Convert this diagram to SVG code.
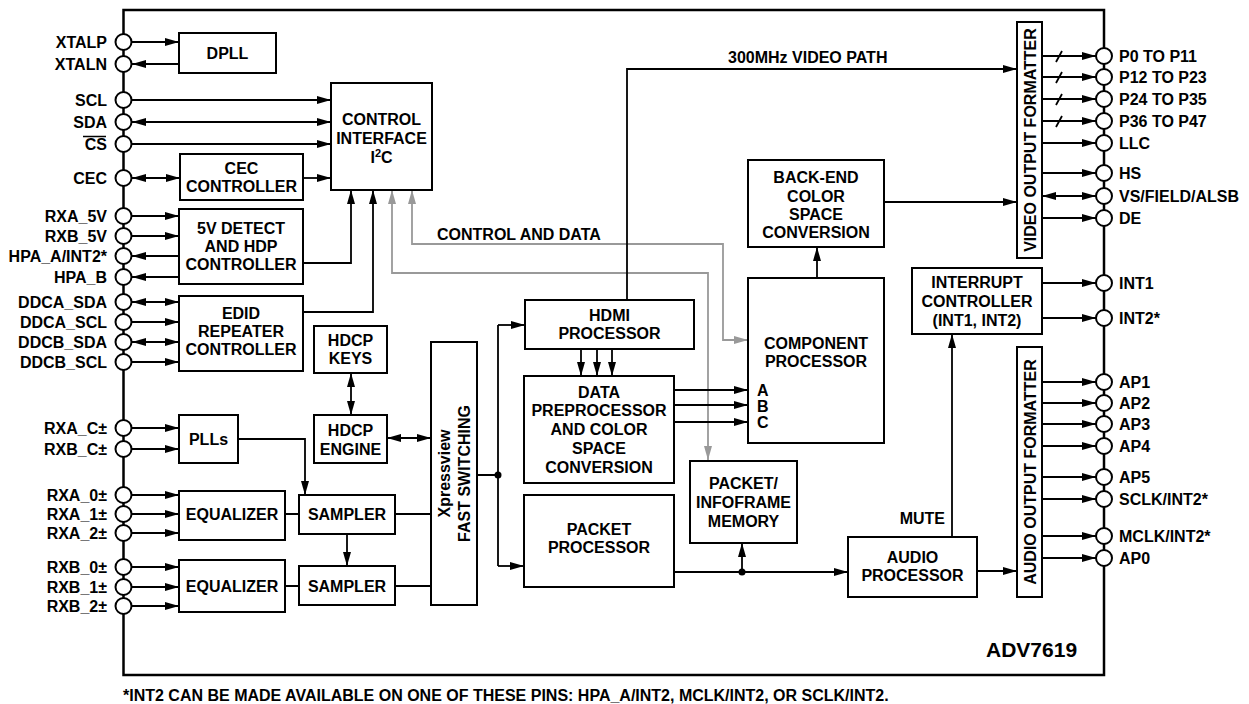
<svg xmlns="http://www.w3.org/2000/svg" width="1249" height="704" viewBox="0 0 1249 704">
<defs>
<style>
text{font-family:"Liberation Sans",Arial,Helvetica,sans-serif;font-weight:bold;font-size:16px;fill:#000}
.c{text-anchor:middle}
.r{text-anchor:end}
.box{fill:#fff;stroke:#000;stroke-width:2}
.ln{fill:none;stroke:#000;stroke-width:1.8}
.e{marker-end:url(#a)}
.b{marker-start:url(#a);marker-end:url(#a)}
.gl{fill:none;stroke:#999;stroke-width:1.8;marker-start:url(#ag);marker-end:url(#ag)}
.pin{fill:#fff;stroke:#000;stroke-width:2}
.border{fill:none;stroke:#000;stroke-width:2.5}
</style>
<marker id="a" viewBox="0 0 14 8" refX="14" refY="4" markerWidth="14" markerHeight="8" markerUnits="userSpaceOnUse" orient="auto-start-reverse"><path d="M0,0 L14,4 L0,8 z" fill="#000"/></marker>
<marker id="ag" viewBox="0 0 14 8" refX="14" refY="4" markerWidth="14" markerHeight="8" markerUnits="userSpaceOnUse" orient="auto-start-reverse"><path d="M0,0 L14,4 L0,8 z" fill="#999"/></marker>
</defs>
<rect width="1249" height="704" fill="#fff"/>
<rect class="border" x="123.5" y="10" width="980.5" height="665"/>

<g id="connectors">
<path class="ln e" d="M132,42 H179"/>
<path class="ln e" d="M179,64 H132"/>
<path class="ln e" d="M132,100 H331"/>
<path class="ln b" d="M132,122 H331"/>
<path class="ln e" d="M132,144 H331"/>
<path class="ln b" d="M132,178 H180"/>
<path class="ln e" d="M303,178 H331"/>
<path class="ln e" d="M132,216 H179"/>
<path class="ln e" d="M132,236 H179"/>
<path class="ln e" d="M179,256 H132"/>
<path class="ln e" d="M179,277 H132"/>
<path class="ln e" d="M303,263 H351 V190"/>
<path class="ln b" d="M132,302 H179"/>
<path class="ln e" d="M132,322 H179"/>
<path class="ln b" d="M132,342 H179"/>
<path class="ln e" d="M132,362 H179"/>
<path class="ln e" d="M303,312 H373 V190"/>
<path class="gl" d="M412,190 V244 H723 V340 H748"/>
<path class="gl" d="M392,190 V273 H708 V460"/>
<path class="ln e" d="M132,428 H179"/>
<path class="ln e" d="M132,449 H179"/>
<path class="ln e" d="M238,439 H305 V495"/>
<path class="ln b" d="M351,373 V415"/>
<path class="ln b" d="M387,438 H431"/>
<path class="ln e" d="M132,495 H179"/>
<path class="ln e" d="M132,514 H179"/>
<path class="ln e" d="M132,533 H179"/>
<path class="ln e" d="M132,567 H179"/>
<path class="ln e" d="M132,587 H179"/>
<path class="ln e" d="M132,606 H179"/>
<path class="ln" d="M285,514 H299 M285,586 H299 M395,514 H431 M395,586 H431"/>
<path class="ln e" d="M347,534 V566"/>
<path class="ln" d="M477,475 H498 M498,325 V566"/>
<path class="ln e" d="M498,325 H525"/>
<path class="ln e" d="M498,566 H524"/>
<circle cx="498" cy="475" r="3.5" fill="#000"/>
<path class="ln e" d="M581,349 V376"/>
<path class="ln e" d="M597,349 V376"/>
<path class="ln e" d="M612,349 V376"/>
<path class="ln e" d="M627,300 V69 H1017"/>
<path class="ln e" d="M674,390 H748"/>
<path class="ln e" d="M674,405 H748"/>
<path class="ln e" d="M674,422 H748"/>
<path class="ln e" d="M817,278 V247"/>
<path class="ln e" d="M884,202 H1017"/>
<path class="ln e" d="M674,572 H848"/>
<path class="ln e" d="M742,572 V543"/>
<circle cx="742" cy="572" r="3.5" fill="#000"/>
<path class="ln e" d="M977,571 H1017"/>
<path class="ln e" d="M952,537 V334"/>
<path class="ln e" d="M1042,283 H1096"/>
<path class="ln e" d="M1042,318 H1096"/>
<path class="ln e" d="M1042,56 H1096"/>
<path class="ln e" d="M1042,77 H1096"/>
<path class="ln e" d="M1042,99 H1096"/>
<path class="ln e" d="M1042,121 H1096"/>
<path class="ln" d="M1056,62 L1062,51 M1056,83 L1062,72 M1056,105 L1062,94 M1056,127 L1062,116"/>
<path class="ln e" d="M1042,143 H1096"/>
<path class="ln e" d="M1042,173 H1096"/>
<path class="ln b" d="M1042,196 H1096"/>
<path class="ln e" d="M1042,218 H1096"/>
<path class="ln e" d="M1042,382 H1096"/>
<path class="ln e" d="M1042,403 H1096"/>
<path class="ln e" d="M1042,424 H1096"/>
<path class="ln e" d="M1042,446 H1096"/>
<path class="ln e" d="M1042,477 H1096"/>
<path class="ln e" d="M1042,499 H1096"/>
<path class="ln e" d="M1042,536 H1096"/>
<path class="ln e" d="M1042,558 H1096"/>
<text x="437" y="239.5">CONTROL AND DATA</text>
<text x="728" y="62.8">300MHz VIDEO PATH</text>
<text class="r" x="945" y="523.8">MUTE</text>
</g>

<g id="dpll"><rect class="box" x="179" y="33" width="97" height="40"/><text class="c" x="227.5" y="59">DPLL</text></g>
<g id="control-interface"><rect class="box" x="331" y="83" width="101" height="107"/>
<text class="c" x="381.5" y="124.8">CONTROL</text><text class="c" x="381.5" y="143.8">INTERFACE</text><text class="c" x="381.5" y="162.8">I<tspan dy="-6" font-size="11px">2</tspan><tspan dy="6">C</tspan></text></g>
<g id="cec-controller"><rect class="box" x="180" y="154" width="123" height="46"/><text class="c" x="241.5" y="173.8">CEC</text><text class="c" x="241.5" y="191.8">CONTROLLER</text></g>
<g id="detect-5v"><rect class="box" x="179" y="209" width="124" height="75"/><text class="c" x="241" y="233.8">5V DETECT</text><text class="c" x="241" y="251.8">AND HDP</text><text class="c" x="241" y="269.8">CONTROLLER</text></g>
<g id="edid"><rect class="box" x="179" y="296" width="124" height="75"/><text class="c" x="241" y="318.8">EDID</text><text class="c" x="241" y="336.8">REPEATER</text><text class="c" x="241" y="354.8">CONTROLLER</text></g>
<g id="hdcp-keys"><rect class="box" x="314" y="326" width="73" height="47"/><text class="c" x="350.5" y="345.8">HDCP</text><text class="c" x="350.5" y="363.8">KEYS</text></g>
<g id="hdcp-engine"><rect class="box" x="314" y="415" width="73" height="48"/><text class="c" x="350.5" y="435.8">HDCP</text><text class="c" x="350.5" y="454.8">ENGINE</text></g>
<g id="plls"><rect class="box" x="179" y="415" width="59" height="48"/><text class="c" x="208.5" y="444.8">PLLs</text></g>
<g id="equalizer-a"><rect class="box" x="179" y="491" width="106" height="49"/><text class="c" x="232" y="519.8">EQUALIZER</text></g>
<g id="equalizer-b"><rect class="box" x="179" y="560" width="106" height="52"/><text class="c" x="232" y="591.8">EQUALIZER</text></g>
<g id="sampler-a"><rect class="box" x="299" y="495" width="96" height="39"/><text class="c" x="347" y="519.8">SAMPLER</text></g>
<g id="sampler-b"><rect class="box" x="299" y="566" width="96" height="39"/><text class="c" x="347" y="591.8">SAMPLER</text></g>
<g id="xpressview"><rect class="box" x="431" y="342" width="46" height="263"/>
<text class="c" transform="translate(444,473.5) rotate(-90)" y="5.8">Xpressview</text>
<text class="c" transform="translate(464,473.5) rotate(-90)" y="5.8">FAST SWITCHING</text></g>
<g id="hdmi-processor"><rect class="box" x="525" y="300" width="169" height="49"/><text class="c" x="609.5" y="320.8">HDMI</text><text class="c" x="609.5" y="338.8">PROCESSOR</text></g>
<g id="data-preprocessor"><rect class="box" x="524" y="376" width="150" height="107"/>
<text class="c" x="599" y="397.8">DATA</text><text class="c" x="599" y="415.8">PREPROCESSOR</text><text class="c" x="599" y="434.8">AND COLOR</text><text class="c" x="599" y="453.8">SPACE</text><text class="c" x="599" y="472.8">CONVERSION</text></g>
<g id="packet-processor"><rect class="box" x="524" y="495" width="150" height="92"/><text class="c" x="599" y="534.8">PACKET</text><text class="c" x="599" y="552.8">PROCESSOR</text></g>
<g id="packet-memory"><rect class="box" x="690" y="461" width="107" height="82"/><text class="c" x="743.5" y="488.8">PACKET/</text><text class="c" x="743.5" y="507.8">INFOFRAME</text><text class="c" x="743.5" y="526.8">MEMORY</text></g>
<g id="component-processor"><rect class="box" x="748" y="278" width="136" height="165"/>
<text class="c" x="816" y="348.8">COMPONENT</text><text class="c" x="816" y="366.8">PROCESSOR</text>
<text x="757" y="395.8">A</text><text x="757" y="411.8">B</text><text x="757" y="427.8">C</text></g>
<g id="back-end-csc"><rect class="box" x="748" y="160" width="136" height="87"/>
<text class="c" x="816" y="182.8">BACK-END</text><text class="c" x="816" y="201.8">COLOR</text><text class="c" x="816" y="219.8">SPACE</text><text class="c" x="816" y="237.8">CONVERSION</text></g>
<g id="audio-processor"><rect class="box" x="848" y="537" width="129" height="60"/><text class="c" x="912.5" y="562.8">AUDIO</text><text class="c" x="912.5" y="580.8">PROCESSOR</text></g>
<g id="interrupt-controller"><rect class="box" x="912" y="268" width="130" height="66"/>
<text class="c" x="977" y="287.8">INTERRUPT</text><text class="c" x="977" y="306.8">CONTROLLER</text><text class="c" x="977" y="325.8">(INT1, INT2)</text></g>
<g id="video-output-formatter"><rect class="box" x="1017" y="22" width="25" height="236"/>
<text class="c" transform="translate(1030,140) rotate(-90)" y="5.8">VIDEO OUTPUT FORMATTER</text></g>
<g id="audio-output-formatter"><rect class="box" x="1017" y="347" width="25" height="250"/>
<text class="c" transform="translate(1030.5,472) rotate(-90)" y="5.8">AUDIO OUTPUT FORMATTER</text></g>

<g id="left-pins">
<g id="pin-xtalp"><circle class="pin" cx="123.5" cy="42" r="8"/><text class="r" x="107" y="47.8">XTALP</text></g>
<g id="pin-xtaln"><circle class="pin" cx="123.5" cy="64" r="8"/><text class="r" x="107" y="69.8">XTALN</text></g>
<g id="pin-scl"><circle class="pin" cx="123.5" cy="100" r="8"/><text class="r" x="107" y="105.8">SCL</text></g>
<g id="pin-sda"><circle class="pin" cx="123.5" cy="122" r="8"/><text class="r" x="107" y="127.8">SDA</text></g>
<g id="pin-cs"><circle class="pin" cx="123.5" cy="144" r="8"/><text class="r" x="107" y="149.8">CS</text><line x1="83" y1="136.5" x2="106" y2="136.5" stroke="#000" stroke-width="1.5"/></g>
<g id="pin-cec"><circle class="pin" cx="123.5" cy="178" r="8"/><text class="r" x="107" y="183.8">CEC</text></g>
<g id="pin-rxa5v"><circle class="pin" cx="123.5" cy="216" r="8"/><text class="r" x="107" y="221.8">RXA_5V</text></g>
<g id="pin-rxb5v"><circle class="pin" cx="123.5" cy="236" r="8"/><text class="r" x="107" y="241.8">RXB_5V</text></g>
<g id="pin-hpaa"><circle class="pin" cx="123.5" cy="256" r="8"/><text class="r" x="107" y="261.8">HPA_A/INT2*</text></g>
<g id="pin-hpab"><circle class="pin" cx="123.5" cy="277" r="8"/><text class="r" x="107" y="282.8">HPA_B</text></g>
<g id="pin-ddca-sda"><circle class="pin" cx="123.5" cy="302" r="8"/><text class="r" x="107" y="307.8">DDCA_SDA</text></g>
<g id="pin-ddca-scl"><circle class="pin" cx="123.5" cy="322" r="8"/><text class="r" x="107" y="327.8">DDCA_SCL</text></g>
<g id="pin-ddcb-sda"><circle class="pin" cx="123.5" cy="342" r="8"/><text class="r" x="107" y="347.8">DDCB_SDA</text></g>
<g id="pin-ddcb-scl"><circle class="pin" cx="123.5" cy="362" r="8"/><text class="r" x="107" y="367.8">DDCB_SCL</text></g>
<g id="pin-rxac"><circle class="pin" cx="123.5" cy="428" r="8"/><text class="r" x="107" y="433.8">RXA_C±</text></g>
<g id="pin-rxbc"><circle class="pin" cx="123.5" cy="449" r="8"/><text class="r" x="107" y="454.8">RXB_C±</text></g>
<g id="pin-rxa0"><circle class="pin" cx="123.5" cy="495" r="8"/><text class="r" x="107" y="500.8">RXA_0±</text></g>
<g id="pin-rxa1"><circle class="pin" cx="123.5" cy="514" r="8"/><text class="r" x="107" y="519.8">RXA_1±</text></g>
<g id="pin-rxa2"><circle class="pin" cx="123.5" cy="533" r="8"/><text class="r" x="107" y="538.8">RXA_2±</text></g>
<g id="pin-rxb0"><circle class="pin" cx="123.5" cy="567" r="8"/><text class="r" x="107" y="572.8">RXB_0±</text></g>
<g id="pin-rxb1"><circle class="pin" cx="123.5" cy="587" r="8"/><text class="r" x="107" y="592.8">RXB_1±</text></g>
<g id="pin-rxb2"><circle class="pin" cx="123.5" cy="606" r="8"/><text class="r" x="107" y="611.8">RXB_2±</text></g>
</g>

<g id="right-pins">
<g id="pin-p0"><circle class="pin" cx="1104" cy="56" r="8"/><text x="1119" y="61.8">P0 TO P11</text></g>
<g id="pin-p12"><circle class="pin" cx="1104" cy="77" r="8"/><text x="1119" y="82.8">P12 TO P23</text></g>
<g id="pin-p24"><circle class="pin" cx="1104" cy="99" r="8"/><text x="1119" y="104.8">P24 TO P35</text></g>
<g id="pin-p36"><circle class="pin" cx="1104" cy="121" r="8"/><text x="1119" y="126.8">P36 TO P47</text></g>
<g id="pin-llc"><circle class="pin" cx="1104" cy="143" r="8"/><text x="1119" y="148.8">LLC</text></g>
<g id="pin-hs"><circle class="pin" cx="1104" cy="173" r="8"/><text x="1119" y="178.8">HS</text></g>
<g id="pin-vs"><circle class="pin" cx="1104" cy="196" r="8"/><text x="1119" y="201.8">VS/FIELD/ALSB</text></g>
<g id="pin-de"><circle class="pin" cx="1104" cy="218" r="8"/><text x="1119" y="223.8">DE</text></g>
<g id="pin-int1"><circle class="pin" cx="1104" cy="283" r="8"/><text x="1119" y="288.8">INT1</text></g>
<g id="pin-int2"><circle class="pin" cx="1104" cy="318" r="8"/><text x="1119" y="323.8">INT2*</text></g>
<g id="pin-ap1"><circle class="pin" cx="1104" cy="382" r="8"/><text x="1119" y="387.8">AP1</text></g>
<g id="pin-ap2"><circle class="pin" cx="1104" cy="403" r="8"/><text x="1119" y="408.8">AP2</text></g>
<g id="pin-ap3"><circle class="pin" cx="1104" cy="424" r="8"/><text x="1119" y="429.8">AP3</text></g>
<g id="pin-ap4"><circle class="pin" cx="1104" cy="446" r="8"/><text x="1119" y="451.8">AP4</text></g>
<g id="pin-ap5"><circle class="pin" cx="1104" cy="477" r="8"/><text x="1119" y="482.8">AP5</text></g>
<g id="pin-sclk"><circle class="pin" cx="1104" cy="499" r="8"/><text x="1119" y="504.8">SCLK/INT2*</text></g>
<g id="pin-mclk"><circle class="pin" cx="1104" cy="536" r="8"/><text x="1119" y="541.8">MCLK/INT2*</text></g>
<g id="pin-ap0"><circle class="pin" cx="1104" cy="558" r="8"/><text x="1119" y="563.8">AP0</text></g>
</g>

<text x="986" y="657" style="font-size:21px">ADV7619</text>
<text x="123" y="700.8">*INT2 CAN BE MADE AVAILABLE ON ONE OF THESE PINS: HPA_A/INT2, MCLK/INT2, OR SCLK/INT2.</text>
</svg>
